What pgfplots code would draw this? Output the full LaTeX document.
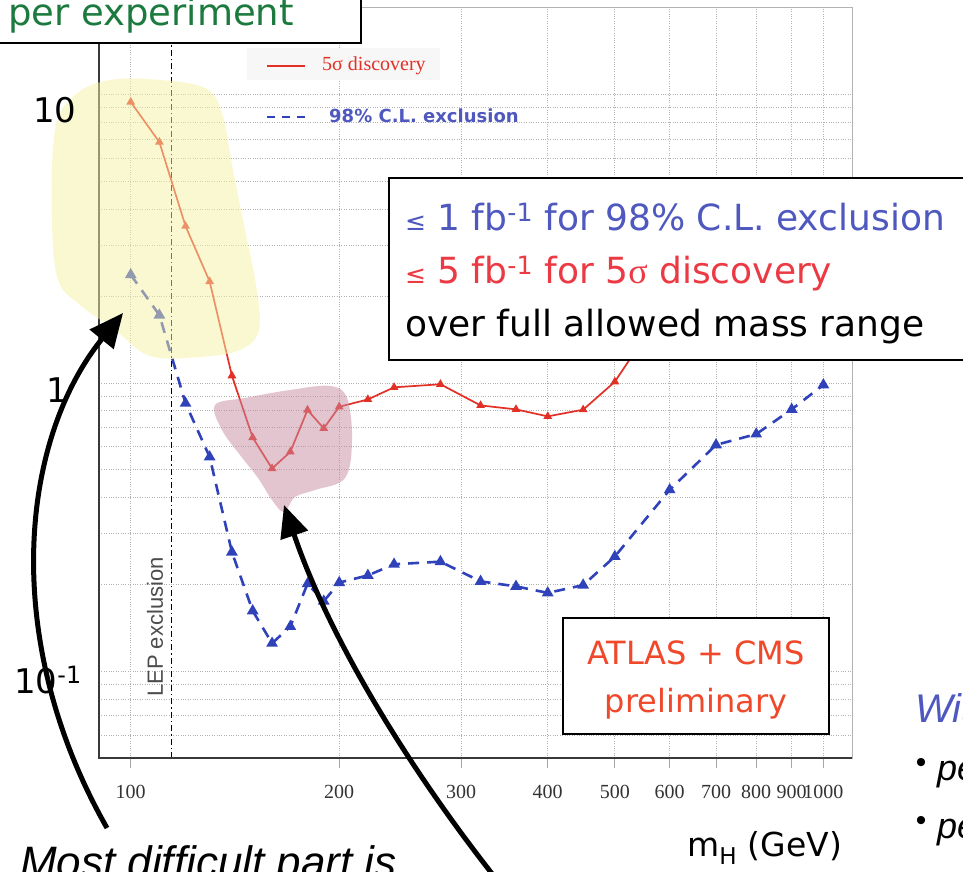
\documentclass[border=0pt]{standalone}
\usepackage{pgfplots}
\pgfplotsset{compat=1.18}
\usetikzlibrary{arrows.meta}
\usepackage{fontspec}
\setmainfont{DejaVu Sans}
\newfontfamily\comic{DejaVu Sans}
\newfontfamily\arial{Liberation Sans}
\newfontfamily\serif{Liberation Serif}
\newcommand{\fs}[1]{\fontsize{#1}{#1}\selectfont}

\definecolor{redline}{RGB}{226,48,38}
\definecolor{blueline}{RGB}{48,66,186}
\definecolor{bluetext}{RGB}{78,88,190}
\definecolor{redtext}{RGB}{236,58,68}
\definecolor{atlasred}{RGB}{240,72,42}
\definecolor{greentext}{RGB}{28,122,62}
\definecolor{hlyellow}{RGB}{247,243,165}
\definecolor{hlpink}{RGB}{200,140,160}

% luminosity needed per experiment (fb^-1)
\pgfplotstableread{
m    L
100  9.44
110  6.85
120  3.50
130  2.25
140  1.06
150  0.647
160  0.505
170  0.577
180  0.806
190  0.696
200  0.827
220  0.877
240  0.966
280  0.99
320  0.836
360  0.81
400  0.766
450  0.808
500  1.01
600  1.95
}\discovery

\pgfplotstableread{
m    L
100  2.375
110  1.72
120  0.85
130  0.554
140  0.259
150  0.162
160  0.125
170  0.143
180  0.201
190  0.175
200  0.203
220  0.215
240  0.235
280  0.240
320  0.205
360  0.197
400  0.187
450  0.199
500  0.25
600  0.426
700  0.61
800  0.665
900  0.81
1000 0.985
}\exclusion

\begin{document}
\begin{tikzpicture}[x=1pt,y=1pt]
\useasboundingbox (0,0) rectangle (963,871);
\clip (0,0) rectangle (963,871);
\fill[white] (0,0) rectangle (963,871);

\begin{axis}[
  at={(99pt,113pt)}, anchor=south west,
  scale only axis, width=753pt, height=750pt,
  xmode=log, ymode=log,
  xmin=90, xmax=1100, ymin=0.05, ymax=20,
  xtick={100,200,300,400,500,600,700,800,900,1000},
  xticklabels={100,200,300,400,500,600,700,800,900,1000},
  minor xtick={},
  ytick={0.1,1,10}, yticklabels={},
  minor ytick={0.06,0.07,0.08,0.09,0.2,0.3,0.4,0.5,0.6,0.7,0.8,0.9,2,3,4,5,6,7,8,9},
  grid=both,
  major grid style={dotted, gray!60, line width=0.9pt},
  minor grid style={dotted, gray!60, line width=0.9pt},
  axis line style={gray!60, line width=1pt},
  tick align=outside,
  xtick style={gray!70, line width=0.8pt},
  major tick length=10pt,
  ytick style={draw=none},
  xtick pos=bottom,
  xticklabel style={font=\serif\fs{20}, text=black!80, yshift=-14pt},
  clip=false,
]
\addplot[black, line width=1.1pt, dash pattern=on 6pt off 3pt on 1.5pt off 3pt]
  coordinates {(114.4,0.05) (114.4,20)};
\addplot[redline, line width=1.7pt, mark=triangle*, mark size=3.4pt,
  mark options={solid, fill=redline}] table[x=m, y=L] {\discovery};
\addplot[blueline, line width=2.6pt, dash pattern=on 11pt off 8pt,
  mark=triangle*, mark size=4.2pt, mark options={solid, fill=blueline}]
  table[x=m, y=L] {\exclusion};
\draw[gray!45!black, line width=1.8pt]
  (rel axis cs:0,1) -- (rel axis cs:0,0) -- (rel axis cs:1,0);
\end{axis}

\begin{scope}[shift={(0,871)}, yscale=-1]
  % highlighter marks
  \fill[hlyellow, opacity=0.5] plot[smooth cycle, tension=0.6] coordinates {
    (55,130) (75,95) (110,80) (160,80) (205,88) (222,113) (233,170) (245,230)
    (256,285) (259,330) (240,350) (200,357) (150,356) (115,330) (80,305)
    (58,280) (52,220)};
  \fill[hlpink, opacity=0.5] plot[smooth cycle, tension=0.6] coordinates {
    (215,405) (245,398) (290,390) (330,386) (347,398) (352,440) (345,478)
    (315,490) (295,497) (284,512) (272,500) (258,478) (240,455) (222,430)};

  % legend
  \fill[gray!6] (247,48) rectangle (440,80);
  \draw[redline, line width=1.4pt] (267,66) -- (305,66);
  \node[anchor=west, text=redline, inner sep=0] at (322,66) {\serif\fs{20}5σ discovery};
  \draw[blueline, line width=2.6pt, dash pattern=on 8pt off 7pt] (267,117) -- (305,117);
  \node[anchor=west, text=bluetext, inner sep=0] at (329,116) {\comic\bfseries\fs{18}98\% C.L. exclusion};

  % LEP label
  \node[rotate=90, text=black!70, inner sep=0] at (155,627) {\arial\fs{22}LEP exclusion};

  % y tick labels
  \node[inner sep=0] at (55,110) {\comic\fs{34}10};
  \node[inner sep=0] at (57,390) {\comic\fs{34}1};
  \node[inner sep=0, anchor=base west] at (14,693) {\comic\fs{34}10\textsuperscript{-1}};

  % axis title
  \node[inner sep=0, anchor=base west] at (687,856) {\comic\fs{33}m\textsubscript{H} (GeV)};

  % header box
  \draw[black, line width=1.8pt, fill=white] (-5,-5) rectangle (361,43);
  \node[inner sep=0, anchor=base west, text=greentext] at (8,26) {\comic\fs{37}per experiment};

  % summary box
  \draw[black, line width=1.8pt, fill=white] (389,178) rectangle (975,360);
  \node[inner sep=0, anchor=base west, text=bluetext] at (405,231)
    {\comic\fs{36}{\fs{25}≤} 1 fb\textsuperscript{-1} for 98\% C.L. exclusion};
  \node[inner sep=0, anchor=base west, text=redtext] at (405,284)
    {\comic\fs{36}{\fs{25}≤} 5 fb\textsuperscript{-1} for 5{\serif σ} discovery};
  \node[inner sep=0, anchor=base west, text=black] at (405,337)
    {\comic\fs{36}over full allowed mass range};

  % experiments box
  \draw[black, line width=1.8pt, fill=white] (563,618) rectangle (829,734);
  \node[inner sep=0, text=atlasred] at (696,653) {\comic\fs{32}ATLAS + CMS};
  \node[inner sep=0, anchor=base, text=atlasred] at (696,712) {\comic\fs{32}preliminary};

  % arrows
  \draw[black, line width=5pt, -{Triangle[length=34pt,width=30pt]}]
    (107,828) .. controls (0,640) and (20,440) .. (123,313);
  \draw[black, line width=5pt, -{Triangle[length=32pt,width=28pt]}]
    (497,880) .. controls (410,770) and (330,640) .. (284,505);

  % slide text around the plot
  \node[inner sep=0, anchor=base west] at (20,877) {\arial\itshape\fs{44}Most difficult part is};
  \node[inner sep=0, anchor=base west, text=bluetext] at (915,722) {\arial\itshape\fs{40}With};
  \node[inner sep=0] at (921,765) {\arial\fs{30}•};
  \node[inner sep=0, anchor=base west] at (937,780) {\arial\itshape\fs{36}pe};
  \node[inner sep=0] at (921,823) {\arial\fs{30}•};
  \node[inner sep=0, anchor=base west] at (937,838) {\arial\itshape\fs{36}pe};
\end{scope}
\end{tikzpicture}
\end{document}
